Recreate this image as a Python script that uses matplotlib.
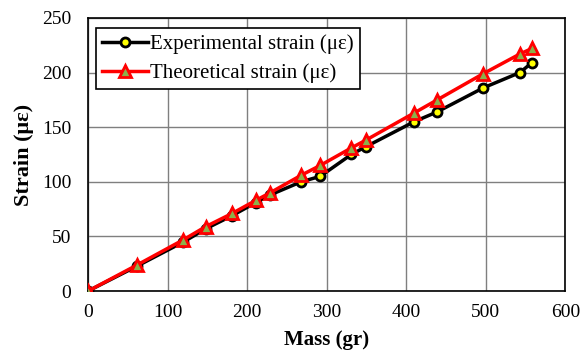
import matplotlib.pyplot as plt

# values
mass = [0, 62, 120, 148, 181, 211, 229, 268, 292, 331, 349, 410, 439, 497, 543, 558]
exp_strain = [0, 23, 45, 57, 69, 81, 88, 100, 105, 125, 132, 155, 164, 186, 200, 209]
theo_strain = [0, 24, 47, 59, 71, 83, 90, 106, 115, 131, 138, 163, 175, 199, 217, 222]

plt.rcParams['font.family'] = ['Liberation Serif', 'DejaVu Serif']

fig = plt.figure(figsize=(5.87, 3.58), dpi=100)
ax = fig.add_axes([0.150, 0.187, 0.813, 0.763])

ax.plot(mass, exp_strain, color='black', linewidth=2.5, marker='o', markersize=6.5,
        markerfacecolor='yellow', markeredgecolor='black', markeredgewidth=2,
        label='Experimental strain (\u03bc\u03b5)', zorder=3)
ax.plot(mass, theo_strain, color='red', linewidth=2.5, marker='^', markersize=8,
        markerfacecolor='#8db04a', markeredgecolor='red', markeredgewidth=2,
        label='Theoretical strain (\u03bc\u03b5)', zorder=4)

ax.set_xlim(0, 600)
ax.set_ylim(0, 250)
ax.set_xticks(range(0, 601, 100))
ax.set_yticks(range(0, 251, 50))
ax.grid(True, color='#7f7f7f', linewidth=1)
ax.set_axisbelow(True)
ax.tick_params(labelsize=14, length=0)
ax.tick_params(axis='x', pad=9)
ax.tick_params(axis='y', pad=12)
for s in ax.spines.values():
    s.set_color('black')
    s.set_linewidth(1.2)

ax.set_xlabel('Mass (gr)', fontsize=15, fontweight='bold', labelpad=7)
ax.set_ylabel('Strain (\u03bc\u03b5)', fontsize=16, fontweight='bold', labelpad=6)

leg = ax.legend(loc='upper left', bbox_to_anchor=(0.017, 0.963), borderaxespad=0,
                fontsize=15, frameon=True, fancybox=False, edgecolor='black',
                framealpha=1, borderpad=0.3, labelspacing=0.45, handlelength=2.2,
                handletextpad=0.1)
leg.get_frame().set_linewidth(1.2)

fig.savefig('out.png', dpi=100)
